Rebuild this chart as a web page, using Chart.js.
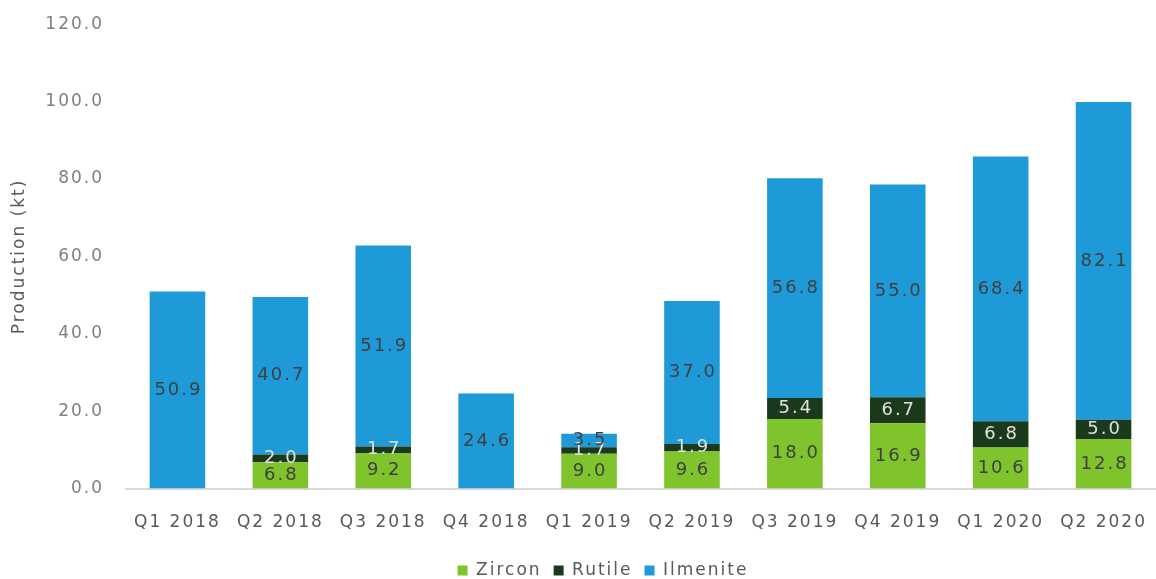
<!DOCTYPE html>
<html>
<head>
<meta charset="utf-8">
<title>Production</title>
<script src="https://cdn.jsdelivr.net/npm/chart.js@4"></script>
<style>
  html, body { margin: 0; padding: 0; background: #fff; }
  #box { width: 1156px; height: 579px; }
</style>
</head>
<body>
<div id="box"><canvas id="grafico"></canvas></div>
<script>
// dados
var trimestres = ['Q1 2018', 'Q2 2018', 'Q3 2018', 'Q4 2018', 'Q1 2019', 'Q2 2019', 'Q3 2019', 'Q4 2019', 'Q1 2020', 'Q2 2020'];
var zircon   = [null, 6.8, 9.2, null, 9.0, 9.6, 18.0, 16.9, 10.6, 12.8];
var rutile   = [null, 2.0, 1.7, null, 1.7, 1.9, 5.4, 6.7, 6.8, 5.0];
var ilmenite = [50.9, 40.7, 51.9, 24.6, 3.5, 37.0, 56.8, 55.0, 68.4, 82.1];
var ticksY   = [0, 20, 40, 60, 80, 100, 120];

var fonte = "'DejaVu Sans', Verdana, sans-serif";
Chart.defaults.font.family = fonte;

// espacamento entre letras (o original e bem largo)
const espaco = {
    id: 'espaco',
    beforeInit(chart) { chart.ctx.letterSpacing = '2px'; },
    beforeDraw(chart) { chart.ctx.letterSpacing = '2px'; }
};

// escreve o valor no meio de cada segmento
const rotulos = {
    id: 'rotulos',
    afterDatasetsDraw(chart) {
        let ctx = chart.ctx;
        ctx.save();
        ctx.font = '18px ' + fonte;
        ctx.letterSpacing = '2px';
        ctx.textAlign = 'center';
        ctx.textBaseline = 'middle';
        chart.data.datasets.forEach((ds, i) => {
            ctx.fillStyle = i == 1 ? '#e0e0e0' : '#404040';
            chart.getDatasetMeta(i).data.forEach((bar, j) => {
                let v = ds.data[j];
                if (v == null) return;
                let meio = (bar.y + bar.base) / 2;
                ctx.fillText(v.toFixed(1), bar.x + 1, meio);
            });
        });
        ctx.restore();
    }
};

var ctx = document.getElementById('grafico');
var chartgraph = new Chart(ctx, {
    type: 'bar',
    data: {
        labels: trimestres,
        datasets: [
            { label: 'Zircon', data: zircon, backgroundColor: '#7fc42c' },
            { label: 'Rutile', data: rutile, backgroundColor: '#1b3a1c' },
            { label: 'Ilmenite', data: ilmenite, backgroundColor: '#1e9ad8' }
        ]
    },
    options: {
        responsive: true,
        maintainAspectRatio: false,
        animation: false,
        layout: { padding: { top: 16, right: -5, left: 5, bottom: -10 } },
        datasets: { bar: { categoryPercentage: 1, barPercentage: 0.54 } },
        plugins: {
            legend: {
                position: 'bottom',
                labels: {
                    usePointStyle: true,
                    pointStyle: 'rect',
                    boxWidth: 10,
                    boxHeight: 10,
                    padding: 12,
                    color: '#595959',
                    font: { size: 17 }
                }
            },
            tooltip: { enabled: false }
        },
        scales: {
            x: {
                stacked: true,
                afterFit: (axis) => { axis.height += 1; },
                grid: { display: false },
                border: { display: true, color: '#d9d9d9', width: 2 },
                ticks: { color: '#595959', padding: 16, font: { size: 17 } }
            },
            y: {
                stacked: true,
                min: 0,
                max: 120,
                afterBuildTicks: (axis) => { axis.ticks = ticksY.map(v => ({ value: v })); },
                afterFit: (axis) => { axis.width = 121; },
                grid: { display: false },
                border: { display: false },
                title: {
                    display: true,
                    text: 'Production (kt)',
                    color: '#595959',
                    font: { size: 17 },
                    padding: { top: 4, bottom: 0 }
                },
                ticks: {
                    color: '#7f7f7f',
                    padding: 14,
                    font: { size: 17 },
                    callback: (v) => Number(v).toFixed(1)
                }
            }
        }
    },
    plugins: [espaco, rotulos]
});
</script>
</body>
</html>
